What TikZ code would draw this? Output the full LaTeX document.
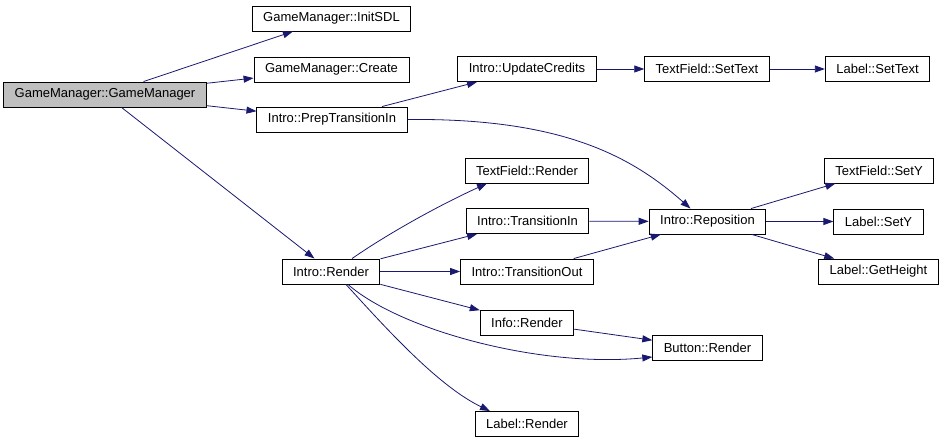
\documentclass[tikz,border=0pt]{standalone}
\usepackage{fontspec}
\setmainfont{Liberation Sans}
\usetikzlibrary{positioning,arrows.meta,calc}
\definecolor{callrule}{RGB}{25,25,112}
\definecolor{rootfill}{RGB}{191,191,191}
\tikzset{
  fn/.style={rectangle,draw=black,line width=0.9pt,fill=white,inner xsep=11pt,inner ysep=0pt,minimum height=25pt,font=\fontsize{13}{16}\selectfont},
  rootfn/.style={fn,fill=rootfill},
  call/.style={-{Triangle[length=10pt,width=7pt]},draw=callrule,line width=0.8pt}
}

\begin{document}
\begin{tikzpicture}[x=1pt,y=-1pt]
  \useasboundingbox (0,0) rectangle (944,443);
  % root and its direct callees
  \node[rootfn] (gm) at (105,94.5) {GameManager::GameManager};
  \node[fn] (initsdl) at (331.5,18.5) {GameManager::InitSDL};
  \node[fn] (create) at (331.5,69.5) {GameManager::Create};
  \node[fn] (prepti) at (332,119.5) {Intro::PrepTransitionIn};
  \node[fn] (irender) at (331,271.5) {Intro::Render};
  % credits chain
  \node[fn] (ucredits) at (527,69) {Intro::UpdateCredits};
  \node[fn] (tfsettext) at (707,69) {TextField::SetText};
  \node[fn] (lsettext) at (877.5,69) {Label::SetText};
  % render branch
  \node[fn] (tfrender) at (527,170.5) {TextField::Render};
  \node[fn] (transin) at (527.5,221) {Intro::TransitionIn};
  \node[fn] (transout) at (527,271.5) {Intro::TransitionOut};
  \node[fn] (inforender) at (527,322.5) {Info::Render};
  \node[fn] (lrender) at (527,424) {Label::Render};
  \node[fn] (brender) at (707.5,348) {Button::Render};
  % reposition branch
  \node[fn] (repos) at (707.5,221.5) {Intro::Reposition};
  \node[fn] (tfsety) at (879,170.5) {TextField::SetY};
  \node[fn] (lsety) at (878.5,221.5) {Label::SetY};
  \node[fn] (lheight) at (878.5,271.5) {Label::GetHeight};

  % calls
  \draw[call] (gm) -- (initsdl);
  \draw[call] (gm) -- (create);
  \draw[call] (gm) -- (prepti);
  \draw[call] (gm) -- (irender);
  \draw[call] (prepti) -- (ucredits);
  \draw[call] (prepti.east) .. controls (560,118) and (630,155) .. ([xshift=-17pt]repos.north);
  \draw[call] (ucredits) -- (tfsettext);
  \draw[call] (tfsettext) -- (lsettext);
  \draw[call] ([xshift=21pt]irender.north) .. controls (392,231) and (442,204) .. ([xshift=-40pt]tfrender.south);
  \draw[call] (irender) -- (transin);
  \draw[call] (irender) -- (transout);
  \draw[call] (irender) -- (inforender);
  \draw[call] ([xshift=17pt]irender.south) .. controls (400,330) and (540,368) .. ([yshift=-9pt]brender.west);
  \draw[call] ([xshift=15pt]irender.south) .. controls (391,334) and (440,387) .. ([xshift=-37pt]lrender.north);
  \draw[call] (transin) -- (repos);
  \draw[call] (transout) -- (repos);
  \draw[call] (inforender) -- (brender);
  \draw[call] (repos) -- (tfsety);
  \draw[call] (repos) -- (lsety);
  \draw[call] (repos) -- (lheight);
\end{tikzpicture}
\end{document}
